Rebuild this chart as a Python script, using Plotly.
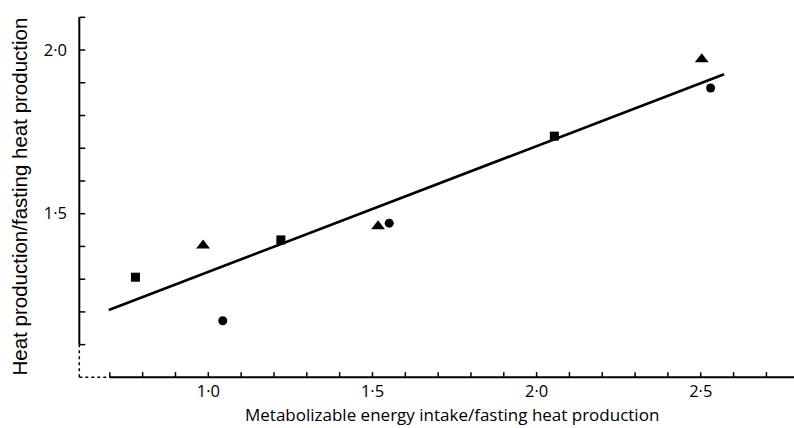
import plotly.graph_objects as go

# Data
sq_x = [0.778, 1.221, 2.054]
sq_y = [1.306, 1.420, 1.737]
tri_x = [0.984, 1.517, 2.503]
tri_y = [1.403, 1.462, 1.972]
cir_x = [1.044, 1.551, 2.530]
cir_y = [1.173, 1.471, 1.884]
fit_x = [0.697, 2.571]
fit_y = [1.206, 1.926]

x_ticks = [0.7, 0.8, 0.9, 1.0, 1.1, 1.2, 1.3, 1.4, 1.5, 1.6, 1.7, 1.8, 1.9, 2.0,
           2.1, 2.2, 2.3, 2.4, 2.5, 2.6, 2.7]
x_labels = ["", "", "", "1·0", "", "", "", "", "1·5", "", "", "", "", "2·0",
            "", "", "", "", "2·5", "", ""]
y_ticks = [1.1, 1.2, 1.3, 1.4, 1.5, 1.6, 1.7, 1.8, 1.9, 2.0, 2.1]
y_labels = ["", "", "", "", "1·5", "", "", "", "", "2·0", ""]

x_range = [0.600, 2.784]
y_range = [0.995, 2.104]
x_axis_pos = 0.607
y_axis_pos = 1.0

fig = go.Figure()
fig.add_trace(go.Scatter(x=fit_x, y=fit_y, mode="lines",
                         line=dict(color="black", width=2.6), showlegend=False))
fig.add_trace(go.Scatter(x=sq_x, y=sq_y, mode="markers",
                         marker=dict(symbol="square", size=9, color="black"), showlegend=False))
fig.add_trace(go.Scatter(x=tri_x, y=tri_y, mode="markers",
                         marker=dict(symbol="triangle-up", size=12, color="black"), showlegend=False))
fig.add_trace(go.Scatter(x=cir_x, y=cir_y, mode="markers",
                         marker=dict(symbol="circle", size=9, color="black"), showlegend=False))

# axis lines (solid parts) and dotted break segments
fig.add_shape(type="line", xref="x", yref="y", x0=x_ticks[0], x1=x_range[1], y0=y_axis_pos, y1=y_axis_pos,
              line=dict(color="black", width=2))
fig.add_shape(type="line", xref="x", yref="y", x0=x_axis_pos, x1=x_axis_pos, y0=y_ticks[0], y1=y_ticks[-1],
              line=dict(color="black", width=2))
fig.add_shape(type="line", xref="x", yref="y", x0=x_axis_pos, x1=x_ticks[0], y0=y_axis_pos, y1=y_axis_pos,
              line=dict(color="black", width=1.5, dash="dot"))
fig.add_shape(type="line", xref="x", yref="y", x0=x_axis_pos, x1=x_axis_pos, y0=y_axis_pos, y1=y_ticks[0],
              line=dict(color="black", width=1.5, dash="dot"))

# ticks drawn as short segments from the axis lines
for xv in x_ticks:
    fig.add_shape(type="line", xref="x", yref="y", x0=xv, x1=xv, y0=y_axis_pos, y1=y_axis_pos + 0.016,
                  line=dict(color="black", width=1.5))
for yv in y_ticks:
    fig.add_shape(type="line", xref="x", yref="y", x0=x_axis_pos, x1=x_axis_pos + 0.018, y0=yv, y1=yv,
                  line=dict(color="black", width=1.5))

tick_font = dict(family="Open Sans, sans-serif", size=16.5, color="black")

fig.update_xaxes(range=x_range, showgrid=False, zeroline=False, showline=False,
                 tickmode="array", tickvals=x_ticks, ticktext=x_labels,
                 ticks="", tickfont=tick_font, ticklabelstandoff=0)
fig.update_yaxes(range=y_range, showgrid=False, zeroline=False, showline=False,
                 tickmode="array", tickvals=y_ticks, ticktext=y_labels,
                 ticks="", tickfont=tick_font, ticklabelstandoff=9)

fig.add_annotation(text="Metabolizable energy intake/fasting heat production",
                   xref="paper", yref="paper", x=0.523, y=-0.1322,
                   xanchor="center", yanchor="bottom", showarrow=False, borderpad=0,
                   font=dict(family="Open Sans, sans-serif", size=17, color="black"))
fig.add_annotation(text="Heat production/fasting heat production",
                   xref="paper", yref="paper", x=-0.0809, y=0.5028,
                   xanchor="center", yanchor="middle", showarrow=False, textangle=-90,
                   font=dict(family="Liberation Sans, Arial, sans-serif", size=20.5, color="black"))

fig.update_layout(width=794, height=428, margin=dict(l=77, r=0, t=16, b=49),
                  plot_bgcolor="white", paper_bgcolor="white")

fig.write_html("out.html")
